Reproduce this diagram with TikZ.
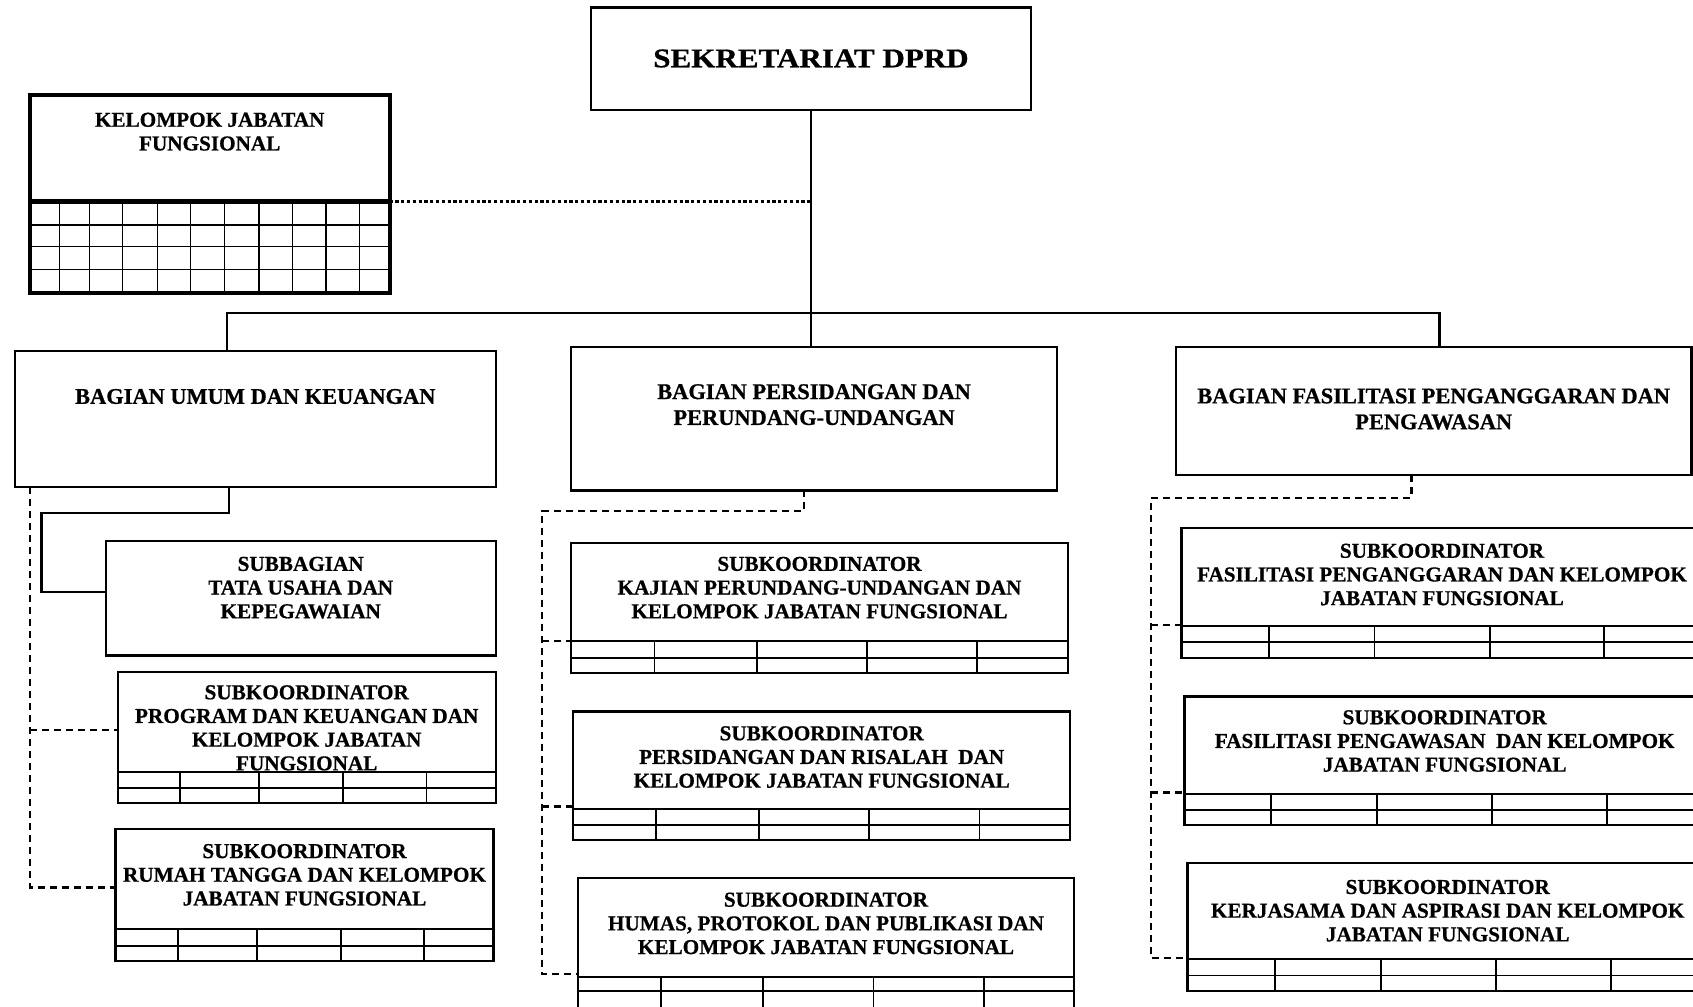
\documentclass[tikz,border=0pt]{standalone}
\usepackage{fontspec}
\setmainfont{Liberation Serif}[BoldFeatures={FakeBold=0.7}]
\newfontfamily\titlefont{Liberation Serif}[FakeStretch=1.15,BoldFeatures={FakeBold=0.7}]
% box given by its corners: name, x1, y1, x2, y2
\newcommand{\orgbox}[6][]{%
  \node[obox,#1,minimum width={(#5-#3)*1pt},minimum height={(#6-#4)*1pt}]
    (#2) at ({(#3+#5)/2},{(#4+#6)/2}) {};}
% two-row table at the foot of a box: x1, x2, ytop, ymid, ybot, four column positions
\newcommand{\staffrows}[9]{%
  \fill[white] ({#1+1.1},#3) rectangle ({#2-1.1},{#5-1.1});
  \draw[tbl] (#1,#3) -- (#2,#3) (#1,#4) -- (#2,#4)
    (#6,#3) -- (#6,#5) (#7,#3) -- (#7,#5) (#8,#3) -- (#8,#5) (#9,#3) -- (#9,#5);}
\begin{document}
\begin{tikzpicture}[x=1pt,y=-1pt,
  obox/.style={draw,line width=2.2pt,inner sep=0pt,outer sep=0pt},
  lbl/.style={inner sep=0pt,align=center,font=\bfseries\fontsize{21.2}{23.7}\selectfont},
  head/.style={lbl,font=\bfseries\fontsize{22.4}{25.9}\selectfont},
  conn/.style={line width=2.4pt},
  dsh/.style={line width=2.3pt,dash pattern=on 7pt off 5pt},
  dotl/.style={line width=3.2pt,dash pattern=on 3.2pt off 2.6pt},
  tbl/.style={line width=1.8pt}]
\useasboundingbox (0,0) rectangle (1693,1006);
\fill[white] (0,0) rectangle (1693,1006);
\clip (0,0) rectangle (1693,1006);

% ---------- boxes ----------
\orgbox{sek}{591}{7.5}{1031}{110}
\orgbox[line width=4pt]{kjf}{30.2}{95}{389.5}{293}
\orgbox{umum}{15.1}{351}{495.6}{486.9}
\orgbox{pers}{571.2}{346.8}{1057}{490.4}
\orgbox{fas}{1175.8}{346.8}{1691.5}{475}
\orgbox{sub}{105.8}{540.9}{495.6}{655.4}
\orgbox{prog}{117.7}{671.6}{495.6}{803.3}
\orgbox{rumah}{115.5}{829.2}{493.4}{961}
\orgbox{kaj}{571.2}{543.2}{1067.8}{672.7}
\orgbox{ris}{573.3}{711.5}{1070}{840.2}
\orgbox{hum}{577.6}{877.8}{1074.3}{1012}
\orgbox{fpg}{1181.5}{528.3}{1702.5}{657.7}
\orgbox{fpw}{1184.4}{696.4}{1705}{824.9}
\orgbox{ker}{1187.5}{862.7}{1708}{991.3}

% ---------- texts ----------
\node[lbl,font=\titlefont\bfseries\fontsize{27}{31}\selectfont] (sek-t) at (811,58.5) {SEKRETARIAT DPRD};
\node[lbl,anchor=north] (kjf-t) at (209.7,112.5) {KELOMPOK JABATAN\\FUNGSIONAL};
\node[head] (umum-t) at (255.3,396.5) {BAGIAN UMUM DAN KEUANGAN};
\node[head,anchor=north] (pers-t) at (814.1,384) {BAGIAN PERSIDANGAN DAN\\PERUNDANG-UNDANGAN};
\node[head,anchor=north] (fas-t) at (1433.7,388.3) {BAGIAN FASILITASI PENGANGGARAN DAN\\PENGAWASAN};
\node[lbl,anchor=north] (sub-t) at (300.7,556.6) {SUBBAGIAN\\TATA USAHA DAN\\KEPEGAWAIAN};
\node[lbl,anchor=north] (prog-t) at (306.7,685) {SUBKOORDINATOR\\PROGRAM DAN KEUANGAN DAN\\KELOMPOK JABATAN\\FUNGSIONAL};
\node[lbl,anchor=north] (rumah-t) at (304.5,843.8) {SUBKOORDINATOR\\RUMAH TANGGA DAN KELOMPOK\\JABATAN FUNGSIONAL};
\node[lbl,anchor=north] (kaj-t) at (819.5,556.6) {SUBKOORDINATOR\\KAJIAN PERUNDANG-UNDANGAN DAN\\KELOMPOK JABATAN FUNGSIONAL};
\node[lbl,anchor=north] (ris-t) at (821.7,726) {SUBKOORDINATOR\\PERSIDANGAN DAN RISALAH\ \ DAN\\KELOMPOK JABATAN FUNGSIONAL};
\node[lbl,anchor=north] (hum-t) at (826,892.4) {SUBKOORDINATOR\\HUMAS, PROTOKOL DAN PUBLIKASI DAN\\KELOMPOK JABATAN FUNGSIONAL};
\node[lbl,anchor=north] (fpg-t) at (1442,543.5) {SUBKOORDINATOR\\FASILITASI PENGANGGARAN DAN KELOMPOK\\JABATAN FUNGSIONAL};
\node[lbl,anchor=north] (fpw-t) at (1444.7,710) {SUBKOORDINATOR\\FASILITASI PENGAWASAN\ \ DAN KELOMPOK\\JABATAN FUNGSIONAL};
\node[lbl,anchor=north] (ker-t) at (1447.7,879.7) {SUBKOORDINATOR\\KERJASAMA DAN ASPIRASI DAN KELOMPOK\\JABATAN FUNGSIONAL};

% ---------- staff tables ----------
\staffrows{117.7}{495.6}{772}{788.2}{803.3}{180.3}{259.1}{343.3}{426.5}
\staffrows{115.5}{493.4}{928.7}{945.9}{961}{178.2}{257}{341.2}{424.3}
\staffrows{571.2}{1067.8}{640.9}{657.6}{672.7}{654.4}{756.9}{867.2}{976.8}
\staffrows{573.3}{1070}{808.7}{824.9}{840.2}{656.3}{758.8}{868.9}{979.4}
\staffrows{577.6}{1074.3}{977.1}{991.2}{1012}{660.8}{763.3}{873.5}{983.6}
\staffrows{1181.5}{1702.5}{625.7}{642.3}{657.7}{1268.7}{1374.5}{1490.2}{1604.3}
\staffrows{1184.4}{1705}{793.6}{809.8}{824.9}{1270.8}{1376.6}{1492.2}{1606.6}
\staffrows{1187.5}{1708}{959}{975.5}{991.3}{1275.3}{1381}{1495.9}{1611}

% grid of the functional group
\draw[line width=4.6pt] (kjf.west |- 0,201.5) -- (kjf.east |- 0,201.5);
\draw[tbl] (kjf.west |- 0,225) -- (kjf.east |- 0,225)
  (kjf.west |- 0,246.5) -- (kjf.east |- 0,246.5)
  (kjf.west |- 0,269.5) -- (kjf.east |- 0,269.5);
\foreach \cx in {59.5,89.5,122.5,157.5,190.5,224.5,259,292.5,326,359.5}
  \draw[tbl] (\cx,201.5) -- (\cx,293);

% ---------- main line ----------
\coordinate (busL) at (227,313);
\coordinate (busR) at (1439.3,313);
\coordinate (kjfsep) at (389.5,201.5);
\draw[conn] (sek.south) -- (sek.south |- pers.north);
\draw[conn] (busL |- umum.north) -- (busL) -- (busR) -- (busR |- fas.north);
\draw[dotl] (kjfsep) -- (kjfsep -| sek.south);

% ---------- general affairs branch ----------
\coordinate (us1) at (229,513);
\coordinate (us2) at (41.5,513);
\coordinate (us3) at (41.5,592);
\draw[conn] (us1 |- umum.south) -- (us1) -- (us2) -- (us3) -- (us3 -| sub.west);
\coordinate (ud1) at (30.2,887.5);
\coordinate (udP) at (30.2,729.9);
\draw[dsh] (ud1 |- umum.south) -- (ud1) -- (ud1 -| rumah.west);
\draw[dsh] (udP) -- (udP -| prog.west);

% ---------- session branch ----------
\coordinate (pd1) at (804.2,510.7);
\coordinate (pd2) at (542,510.7);
\coordinate (pdK) at (542,641.3);
\coordinate (pdR) at (542,806.5);
\coordinate (pdH) at (542,973.9);
\draw[dsh] (pd1 |- pers.south) -- (pd1) -- (pd2) -- (pdH) -- (pdH -| hum.west);
\draw[dsh] (pdK) -- (pdK -| kaj.west);
\draw[dsh] (pdR) -- (pdR -| ris.west);

% ---------- budgeting branch ----------
\coordinate (fd1) at (1411.5,497.7);
\coordinate (fd2) at (1151,497.7);
\coordinate (fdG) at (1151,625.3);
\coordinate (fdW) at (1151,792.5);
\coordinate (fdK) at (1151,957.7);
\draw[dsh] (fd1 |- fas.south) -- (fd1) -- (fd2) -- (fdK) -- (fdK -| ker.west);
\draw[dsh] (fdG) -- (fdG -| fpg.west);
\draw[dsh] (fdW) -- (fdW -| fpw.west);
\end{tikzpicture}
\end{document}
